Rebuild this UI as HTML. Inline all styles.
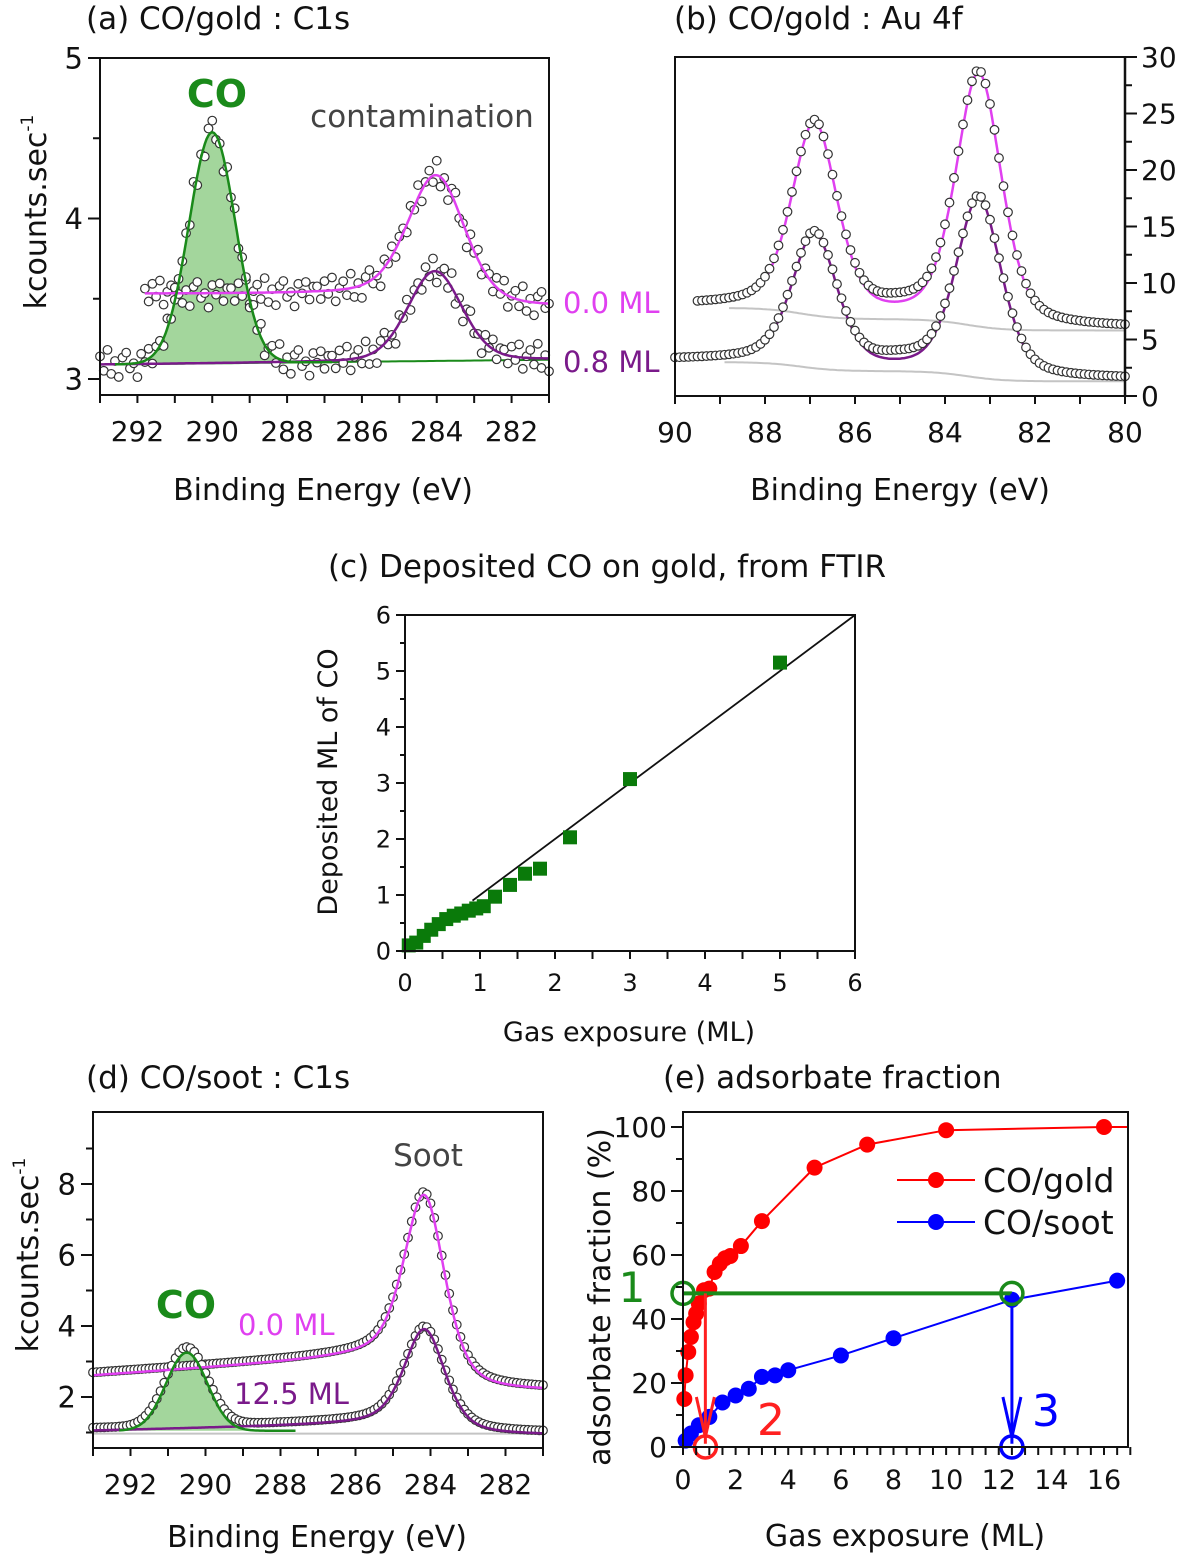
<!DOCTYPE html>
<html><head><meta charset="utf-8">
<style>
html,body{margin:0;padding:0;background:#fff;}
svg{display:block;font-family:"DejaVu Sans","Liberation Sans",sans-serif;}
</style></head>
<body>
<svg id="fig" width="1200" height="1561" viewBox="0 0 1200 1561" xmlns="http://www.w3.org/2000/svg"></svg>
<script>
// ---------- DATA ----------
const aCleanBg = [3.53, 3.45, 284.0, 0.5];
const aCleanPeak = [284.0, 0.78, 0.9, 0.3];
const aDosedBg = [3.09, 3.12];
const aDosedPeak = [284.05, 0.56, 0.85, 0.2];
const aCOPeak = [290.0, 1.44, 0.62];
const aNoise = [0.03,-0.05,0.06,-0.02,0.08,-0.07,0.01,0.05,-0.04,0.09,-0.06,0.02,-0.08,0.04,0.07,-0.03,0.0,-0.09,0.05,-0.01,0.06,-0.05,0.03];
const bCleanBg = [7.8, 1.0, 87.2, 1.0, 83.5];
const bCleanPeaks = [[86.9, 16.9], [83.25, 22.3]];
const bDosedBg = [3.0, 0.8, 87.2, 0.9, 83.5];
const bDosedPeaks = [[86.9, 11.8], [83.25, 15.8]];
const bShape = [0.6, 0.4];
const cExposure = [0.05,0.15,0.25,0.35,0.45,0.55,0.65,0.75,0.85,0.95,1.05,1.2,1.4,1.6,1.8,2.2,3.0,5.0];
const cDeposited = [0.1,0.15,0.27,0.38,0.48,0.57,0.63,0.67,0.72,0.76,0.8,0.97,1.18,1.38,1.47,2.03,3.07,5.15];
const cLine = [[0.9,0.9],[6,6]];
const dCleanBg = [2.6, 0.07, 2.15, 284.3, 0.4];
const dCleanPeak = [284.15, 5.1, 0.65, 0.5];
const dDosedBg = [1.05, 0.025, 0.92, 284.3, 0.4];
const dDosedPeak = [284.15, 2.85, 0.65, 0.5];
const dCOPeak = [290.5, 2.2, 0.55];
const eGoldX = [0.05,0.1,0.2,0.3,0.4,0.5,0.6,0.8,1.0,1.2,1.4,1.6,1.8,2.2,3,5,7,10,16];
const eGoldY = [15,22.4,29.7,34.4,39,41.7,44.8,49,49.5,54.7,57.3,59,59.7,62.8,70.6,87.3,94.5,99,100];
const eSootX = [0.1,0.3,0.6,1,1.5,2,2.5,3,3.5,4,6,8,12.5,16.5];
const eSootY = [2,4.2,6.8,9.4,13.9,16.1,18.2,21.9,22.4,24,28.6,34,46,52];
const eConstruct = [48, 0.85, 12.5];

// ---------- HELPERS ----------
const NS = "http://www.w3.org/2000/svg";
const svg = document.getElementById('fig');
function el(tag, attrs, parent) {
  const e = document.createElementNS(NS, tag);
  for (const k in attrs) e.setAttribute(k, attrs[k]);
  (parent || svg).appendChild(e);
  return e;
}
function txt(s, x, y, size, color, anchor, parent, rot) {
  const t = el('text', {x: x, y: y, 'font-size': size, fill: color || '#222', 'text-anchor': anchor || 'start'}, parent);
  if (rot) t.setAttribute('transform', 'rotate(' + rot + ' ' + x + ' ' + y + ')');
  t.textContent = s;
  return t;
}
function lin(d0, d1, p0, p1) { return v => p0 + (v - d0) * (p1 - p0) / (d1 - d0); }
function gauss(x, c, a, s) { return a * Math.exp(-(x - c) * (x - c) / (2 * s * s)); }
function pv(x, c, a, w, eta) { const u = (x - c) / w; return a * (eta / (1 + u * u) + (1 - eta) * Math.exp(-Math.LN2 * u * u)); }
function sig(v) { return 1 / (1 + Math.exp(-v)); }
function range(a, b, step) { const r = []; const n = Math.round(Math.abs(b - a) / step); for (let i = 0; i <= n; i++) r.push(a + (b > a ? 1 : -1) * i * step); return r; }
function pathD(xs, f, X, Y) { return xs.map((x, i) => (i ? 'L' : 'M') + X(x).toFixed(1) + ' ' + Y(f(x)).toFixed(1)).join(' '); }
function circles(g, xs, f, X, Y, r, name) {
  xs.forEach((x, i) => {
    const c = el('circle', {cx: X(x), cy: Y(f(x, i)), r: r, fill: '#fff', stroke: '#333', 'stroke-width': 1.2}, g);
    
    
  });
}
function xTicks(g, X, yb, vals, len, labels, fs, dy) {
  vals.forEach(v => el('line', {x1: X(v), x2: X(v), y1: yb, y2: yb + len, stroke: '#111', 'stroke-width': 2}, g));
  if (labels) labels.forEach(v => txt(String(v), X(v), yb + dy, fs, '#111', 'middle', g));
}
function yTicks(g, Y, xl, vals, len, labels, fs, dx, anchor) {
  vals.forEach(v => el('line', {x1: xl, x2: xl + len, y1: Y(v), y2: Y(v), stroke: '#111', 'stroke-width': 2}, g));
  if (labels) labels.forEach(v => txt(String(v), xl + dx, Y(v) + fs * 0.36, fs, '#111', anchor || 'end', g));
}
const MAG = '#e040f0', PUR = '#7a1a8a', GRN = '#1a8a1a', FILL = '#a3d69c', GRY = '#c4c4c4';

// ---------- PANEL A ----------
(function () {
  const g = el('g', {});  
  const X = lin(293, 281, 100, 549), Y = lin(3, 5, 379, 58);
  const clean = x => aCleanBg[1] + (aCleanBg[0] - aCleanBg[1]) * sig((x - aCleanBg[2]) / aCleanBg[3]) + pv(x, aCleanPeak[0], aCleanPeak[1], aCleanPeak[2], aCleanPeak[3]);
  const bg = x => aDosedBg[0] + (aDosedBg[1] - aDosedBg[0]) * (293 - x) / 12;
  const dosedFit = x => bg(x) + pv(x, aDosedPeak[0], aDosedPeak[1], aDosedPeak[2], aDosedPeak[3]);
  const co = x => bg(x) + gauss(x, aCOPeak[0], aCOPeak[1], aCOPeak[2]);
  const dosed = x => dosedFit(x) + gauss(x, aCOPeak[0], aCOPeak[1], aCOPeak[2]);
  const coX = range(292.6, 286.8, 0.05);
  el('path', {d: pathD(coX, co, X, Y) + ' L' + X(286.8) + ' ' + Y(bg(286.8)) + ' L' + X(292.6) + ' ' + Y(bg(292.6)) + 'Z', fill: FILL, stroke: 'none'}, g);
  el('path', {d: pathD(range(293, 281, 0.1), bg, X, Y), fill: 'none', stroke: GRN, 'stroke-width': 2}, g);
  circles(g, range(291.8, 281, 0.1), (x, i) => clean(x) + aNoise[i % aNoise.length], X, Y, 4.3, 'data-point-0ml');
  circles(g, range(293, 281, 0.1), (x, i) => dosed(x) + aNoise[(i + 7) % aNoise.length], X, Y, 4.3, 'data-point-08ml');
  el('path', {d: pathD(range(291.8, 281, 0.05), clean, X, Y), fill: 'none', stroke: MAG, 'stroke-width': 2.5}, g);
  el('path', {d: pathD(range(293, 281, 0.05), dosedFit, X, Y), fill: 'none', stroke: PUR, 'stroke-width': 2.5}, g);
  el('path', {d: pathD(coX, co, X, Y), fill: 'none', stroke: GRN, 'stroke-width': 2.5}, g);
  el('rect', {x: 100, y: 58, width: 449, height: 337, fill: 'none', stroke: '#111', 'stroke-width': 2}, g);
  xTicks(g, X, 395, [293,292,291,290,289,288,287,286,285,284,283,282,281], 8, [292,290,288,286,284,282], 28, 46);
  yTicks(g, Y, 100, [3,4,5], -12, [3,4,5], 29, -17);
  yTicks(g, Y, 100, [3.5,4.5], -7);
  txt('CO', 217, 107, 38, GRN, 'middle', g).setAttribute('font-weight', 'bold');
  txt('contamination', 422, 127, 31, '#444', 'middle', g);
  txt('0.0 ML', 563, 313, 29, MAG, 'start', g);
  txt('0.8 ML', 563, 372, 29, PUR, 'start', g);
  txt('(a) CO/gold : C1s', 86, 29, 31, '#111', 'start', g);
  txt('Binding Energy (eV)', 323, 500, 30, '#111', 'middle', g);
  const yl = txt('kcounts.sec', 46, 212, 30, '#111', 'middle', g, -90);
  const sup = el('tspan', {dy: -13, 'font-size': 17}, yl); sup.textContent = '-1';
})();

// ---------- PANEL B ----------
(function () {
  const g = el('g', {});  
  const X = lin(90, 80, 675, 1125), Y = lin(0, 30, 396, 57);
  const mkBg = p => x => p[0] - p[1] * sig((p[2] - x) / 0.4) - p[3] * sig((p[4] - x) / 0.4);
  const mkFit = (bg, pk) => x => bg(x) + pk.reduce((s, q) => s + pv(x, q[0], q[1], bShape[0], bShape[1]), 0);
  const cBg = mkBg(bCleanBg), dBg = mkBg(bDosedBg);
  const cFit = mkFit(cBg, bCleanPeaks), dFit = mkFit(dBg, bDosedPeaks);
  el('path', {d: pathD(range(88.8, 80, 0.05), cBg, X, Y), fill: 'none', stroke: GRY, 'stroke-width': 2}, g);
  el('path', {d: pathD(range(88.9, 80, 0.05), dBg, X, Y), fill: 'none', stroke: GRY, 'stroke-width': 2}, g);
  el('path', {d: pathD(range(89.5, 80, 0.03), cFit, X, Y), fill: 'none', stroke: MAG, 'stroke-width': 2.5}, g);
  el('path', {d: pathD(range(90, 80, 0.03), dFit, X, Y), fill: 'none', stroke: PUR, 'stroke-width': 2.5}, g);
  circles(g, range(89.5, 80, 0.1), x => cFit(x) + 0.6 * Math.exp(-Math.pow((x - 85) / 0.8, 2)) + 0.2, X, Y, 4.3, 'data-point-0ml');
  circles(g, range(90, 80, 0.1), x => dFit(x) + 0.6 * Math.exp(-Math.pow((x - 85) / 0.8, 2)) + 0.2, X, Y, 4.3, 'data-point-08ml');
  el('path', {d: 'M1125 57 L675 57 L675 396 L1125 396', fill: 'none', stroke: '#111', 'stroke-width': 2}, g);
  el('line', {x1: 1125, x2: 1125, y1: 57, y2: 396, stroke: '#111', 'stroke-width': 2.5}, g);
  xTicks(g, X, 396, range(90, 80, 1), 8, [90,88,86,84,82,80], 28, 46);
  yTicks(g, Y, 1125, [0,5,10,15,20,25,30], 12, [0,5,10,15,20,25,30], 28, 16, 'start');
  yTicks(g, Y, 1125, [2.5,7.5,12.5,17.5,22.5,27.5], 7);
  txt('(b) CO/gold : Au 4f', 674, 29, 31, '#111', 'start', g);
  txt('Binding Energy (eV)', 900, 500, 30, '#111', 'middle', g);
})();

// ---------- PANEL C ----------
(function () {
  const g = el('g', {});  
  const X = lin(0, 6, 405, 855), Y = lin(0, 6, 951, 615);
  el('line', {x1: X(cLine[0][0]), y1: Y(cLine[0][1]), x2: X(cLine[1][0]), y2: Y(cLine[1][1]), stroke: '#111', 'stroke-width': 1.8}, g);
  cExposure.forEach((v, i) => {
    const r = el('rect', {x: X(v) - 7, y: Y(cDeposited[i]) - 7, width: 14, height: 14, fill: '#0a7a0a'}, g);
    
    
  });
  el('rect', {x: 405, y: 615, width: 450, height: 336, fill: 'none', stroke: '#111', 'stroke-width': 2}, g);
  xTicks(g, X, 951, range(0, 6, 0.5), 8, [0,1,2,3,4,5,6], 24, 40);
  yTicks(g, Y, 405, [0,1,2,3,4,5,6], -9, [0,1,2,3,4,5,6], 24, -14);
  yTicks(g, Y, 405, [0.5,1.5,2.5,3.5,4.5,5.5], -5);
  txt('(c) Deposited CO on gold, from FTIR', 607, 577, 31, '#111', 'middle', g);
  txt('Gas exposure (ML)', 629, 1041, 27, '#111', 'middle', g);
  txt('Deposited ML of CO', 337, 782, 27, '#111', 'middle', g, -90);
})();

// ---------- PANEL D ----------
(function () {
  const g = el('g', {});  
  const X = lin(293, 281, 93, 543), Y = lin(2, 8, 1397, 1184);
  const mkBg = p => x => p[2] + (p[0] + p[1] * (293 - x) - p[2]) * sig((x - p[3]) / p[4]);
  const cBg = mkBg(dCleanBg), dBg = mkBg(dDosedBg);
  const cFit = x => cBg(x) + pv(x, dCleanPeak[0], dCleanPeak[1], dCleanPeak[2], dCleanPeak[3]);
  const dFit = x => dBg(x) + pv(x, dDosedPeak[0], dDosedPeak[1], dDosedPeak[2], dDosedPeak[3]);
  const coBase = x => dDosedBg[0];
  const co = x => coBase(x) + gauss(x, dCOPeak[0], dCOPeak[1], dCOPeak[2]);
  const coX = range(292.3, 287.6, 0.05);
  el('path', {d: pathD(coX, co, X, Y) + ' L' + X(287.6) + ' ' + Y(coBase(0)) + ' L' + X(292.3) + ' ' + Y(coBase(0)) + 'Z', fill: FILL}, g);
  el('line', {x1: 93, x2: 543, y1: Y(0.97), y2: Y(0.97), stroke: GRY, 'stroke-width': 2}, g);
  circles(g, range(293, 281, 0.1), x => cFit(x) + 0.08, X, Y, 4.3, 'data-point-0ml');
  circles(g, range(293, 281, 0.1), x => dFit(x) + gauss(x, dCOPeak[0], dCOPeak[1], dCOPeak[2]) + 0.08, X, Y, 4.3, 'data-point-125ml');
  el('path', {d: pathD(range(293, 281, 0.03), cFit, X, Y), fill: 'none', stroke: MAG, 'stroke-width': 2.5}, g);
  el('path', {d: pathD(range(293, 281, 0.03), dFit, X, Y), fill: 'none', stroke: PUR, 'stroke-width': 2.5}, g);
  el('path', {d: pathD(coX, co, X, Y), fill: 'none', stroke: GRN, 'stroke-width': 2.5}, g);
  el('rect', {x: 93, y: 1112, width: 450, height: 336, fill: 'none', stroke: '#111', 'stroke-width': 2}, g);
  xTicks(g, X, 1448, range(293, 281, 1), 8, [292,290,288,286,284,282], 28, 46);
  yTicks(g, Y, 93, [2,4,6,8], -12, [2,4,6,8], 29, -17);
  yTicks(g, Y, 93, [1,3,5,7,9], -7);
  txt('CO', 186, 1318, 38, GRN, 'middle', g).setAttribute('font-weight', 'bold');
  txt('Soot', 428, 1166, 31, '#444', 'middle', g);
  txt('0.0 ML', 238, 1335, 29, MAG, 'start', g);
  txt('12.5 ML', 234, 1404, 29, PUR, 'start', g);
  txt('(d) CO/soot : C1s', 86, 1088, 31, '#111', 'start', g);
  txt('Binding Energy (eV)', 317, 1547, 30, '#111', 'middle', g);
  const yl = txt('kcounts.sec', 38, 1255, 30, '#111', 'middle', g, -90);
  const sup = el('tspan', {dy: -13, 'font-size': 17}, yl); sup.textContent = '-1';
})();

// ---------- PANEL E ----------
(function () {
  const g = el('g', {});  
  const X = lin(0, 16, 683, 1104), Y = lin(0, 100, 1447, 1127);
  const lineD = (xs, ys) => xs.map((x, i) => (i ? 'L' : 'M') + X(x) + ' ' + Y(ys[i])).join(' ');
  el('path', {d: lineD(eGoldX, eGoldY) + ' L1128 ' + Y(eGoldY[eGoldY.length - 1]), fill: 'none', stroke: '#ff0000', 'stroke-width': 2}, g);
  el('path', {d: lineD(eSootX, eSootY), fill: 'none', stroke: '#0000ff', 'stroke-width': 2}, g);
  eGoldX.forEach((x, i) => {
    const c = el('circle', {cx: X(x), cy: Y(eGoldY[i]), r: 8, fill: '#ff0000'}, g);
    
    
  });
  eSootX.forEach((x, i) => {
    const c = el('circle', {cx: X(x), cy: Y(eSootY[i]), r: 8, fill: '#0000ff'}, g);
    
    
  });
  const lv = eConstruct[0], gx = eConstruct[1], sx = eConstruct[2];
  el('line', {x1: X(0), x2: X(sx), y1: Y(lv), y2: Y(lv), stroke: '#1a8a1a', 'stroke-width': 4}, g);
  el('line', {x1: X(gx), x2: X(gx), y1: Y(lv), y2: Y(1), stroke: '#ff2020', 'stroke-width': 3}, g);
  el('path', {d: 'M' + (X(gx) - 9) + ' ' + (Y(0) - 50) + ' L' + X(gx) + ' ' + (Y(0) - 10) + ' L' + (X(gx) + 9) + ' ' + (Y(0) - 50), fill: 'none', stroke: '#ff2020', 'stroke-width': 3}, g);
  el('line', {x1: X(sx), x2: X(sx), y1: Y(lv), y2: Y(1), stroke: '#0000ff', 'stroke-width': 3}, g);
  el('path', {d: 'M' + (X(sx) - 9) + ' ' + (Y(0) - 50) + ' L' + X(sx) + ' ' + (Y(0) - 10) + ' L' + (X(sx) + 9) + ' ' + (Y(0) - 50), fill: 'none', stroke: '#0000ff', 'stroke-width': 3}, g);
  el('circle', {cx: X(0), cy: Y(lv), r: 11, fill: 'none', stroke: '#1a8a1a', 'stroke-width': 3.5}, g);
  el('circle', {cx: X(sx), cy: Y(lv), r: 11, fill: 'none', stroke: '#1a8a1a', 'stroke-width': 3.5}, g);
  el('circle', {cx: X(gx), cy: Y(0), r: 11, fill: 'none', stroke: '#ff2020', 'stroke-width': 3.5}, g);
  el('circle', {cx: X(sx), cy: Y(0), r: 11, fill: 'none', stroke: '#0000ff', 'stroke-width': 3.5}, g);
  txt('1', 632, 1302, 42, '#1a8a1a', 'middle', g);
  txt('2', 771, 1435, 44, '#ff2020', 'middle', g);
  txt('3', 1046, 1426, 44, '#0000ff', 'middle', g);
  el('rect', {x: 683, y: 1112, width: 445, height: 335, fill: 'none', stroke: '#111', 'stroke-width': 2}, g);
  xTicks(g, X, 1447, range(0, 17, 0.5), 8, [0,2,4,6,8,10,12,14,16], 27, 42);
  yTicks(g, Y, 683, [0,20,40,60,80,100], -12, [0,20,40,60,80,100], 28, -16);
  yTicks(g, Y, 683, [10,30,50,70,90], -7);
  const lg = el('g', {}, g);  
  el('line', {x1: 897, x2: 975, y1: 1180, y2: 1180, stroke: '#ff0000', 'stroke-width': 2}, lg);
  el('circle', {cx: 936, cy: 1180, r: 8, fill: '#ff0000'}, lg);
  txt('CO/gold', 983, 1192, 33, '#111', 'start', lg);
  el('line', {x1: 897, x2: 975, y1: 1222, y2: 1222, stroke: '#0000ff', 'stroke-width': 2}, lg);
  el('circle', {cx: 936, cy: 1222, r: 8, fill: '#0000ff'}, lg);
  txt('CO/soot', 983, 1234, 33, '#111', 'start', lg);
  txt('(e) adsorbate fraction', 663, 1088, 31, '#111', 'start', g);
  txt('Gas exposure (ML)', 905, 1546, 30, '#111', 'middle', g);
  txt('adsorbate fraction (%)', 610, 1297, 30, '#111', 'middle', g, -90);
})();
</script>
</body></html>
